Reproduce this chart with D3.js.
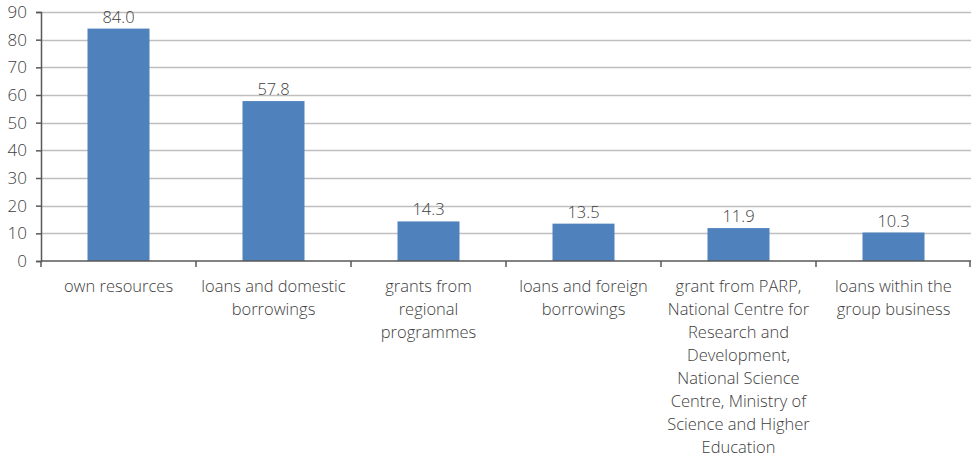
<!DOCTYPE html>
<html>
<head>
<meta charset="utf-8">
<script src="https://cdn.jsdelivr.net/npm/d3@7"></script>
<style>
  html, body { margin: 0; padding: 0; background: #fff; }
  svg { display: block; font-family: "Open Sans", "Noto Sans", sans-serif; font-weight: 300; }
</style>
</head>
<body>
<svg id="chart" width="971" height="458"></svg>
<script>
// Funding sources (line breaks mark where each label wraps) and their shares
const categories = [
  "own resources",
  "loans and domestic\nborrowings",
  "grants from\nregional\nprogrammes",
  "loans and foreign\nborrowings",
  "grant from PARP,\nNational Centre for\nResearch and\nDevelopment,\nNational Science\nCentre, Ministry of\nScience and Higher\nEducation",
  "loans within the\ngroup business"
];
const values = [84.0, 57.8, 14.3, 13.5, 11.9, 10.3];
const yTicks = [0, 10, 20, 30, 40, 50, 60, 70, 80, 90];

const W = 971, H = 458;
const margin = { top: 12, right: 0, bottom: 197, left: 41 };
const svg = d3.select("#chart");
const textColor = "#404040";
const fontSize = 16.5;

const x = d3.scaleBand()
  .domain(categories)
  .range([margin.left, W - margin.right])
  .paddingInner(0.6)
  .paddingOuter(0.3);

const y = d3.scaleLinear()
  .domain([0, 90])
  .range([H - margin.bottom, margin.top]);

// band boundaries (category separators on the x axis)
const step = (W - margin.right - margin.left) / categories.length;
const bounds = d3.range(categories.length + 1).map(i => margin.left + i * step);

// gridlines
svg.append("g")
  .selectAll("line")
  .data(yTicks.filter(d => d > 0))
  .join("line")
  .attr("x1", margin.left)
  .attr("x2", W - margin.right)
  .attr("y1", d => Math.round(y(d)) + 0.5)
  .attr("y2", d => Math.round(y(d)) + 0.5)
  .attr("stroke", "#bfbfbf")
  .attr("stroke-width", 1.5);

// bars
svg.append("g")
  .selectAll("rect")
  .data(values)
  .join("rect")
  .attr("x", (d, i) => x(categories[i]))
  .attr("width", x.bandwidth())
  .attr("y", d => y(d))
  .attr("height", d => y(0) - y(d))
  .attr("fill", "#4f81bd");

// value labels
svg.append("g")
  .selectAll("text")
  .data(values)
  .join("text")
  .attr("x", (d, i) => x(categories[i]) + x.bandwidth() / 2)
  .attr("y", d => y(d) - 6)
  .attr("text-anchor", "middle")
  .attr("fill", textColor)
  .attr("font-size", fontSize)
  .text(d => d.toFixed(1));

// y axis
const yAxis = svg.append("g")
  .attr("transform", `translate(${margin.left},0)`)
  .call(d3.axisLeft(y).tickValues(yTicks).tickSize(5).tickPadding(9).tickFormat(d3.format("d")));
yAxis.select(".domain").attr("stroke", "#595959").attr("stroke-width", 1.5);
yAxis.selectAll(".tick line").attr("stroke", "#595959").attr("stroke-width", 1.5);
yAxis.selectAll(".tick text")
  .attr("fill", textColor)
  .attr("font-size", 17)
  .attr("font-weight", 300)
  .attr("font-family", "'Open Sans', 'Noto Sans', sans-serif");

// x axis line and separator ticks
const xg = svg.append("g");
xg.append("line")
  .attr("x1", margin.left)
  .attr("x2", W - margin.right)
  .attr("y1", y(0))
  .attr("y2", y(0))
  .attr("stroke", "#595959")
  .attr("stroke-width", 1.5);
xg.selectAll("line.sep")
  .data(bounds)
  .join("line")
  .attr("class", "sep")
  .attr("x1", d => Math.min(d, W - 1))
  .attr("x2", d => Math.min(d, W - 1))
  .attr("y1", y(0))
  .attr("y2", y(0) + 6)
  .attr("stroke", "#595959")
  .attr("stroke-width", 1.5);

// multi-line category labels
categories.forEach(c => {
  const cx = x(c) + x.bandwidth() / 2;
  const t = svg.append("text")
    .attr("text-anchor", "middle")
    .attr("fill", textColor)
    .attr("font-size", fontSize);
  c.split("\n").forEach((ln, j) => {
    t.append("tspan")
      .attr("x", cx)
      .attr("y", y(0) + 31 + j * 23)
      .text(ln);
  });
});
</script>
</body>
</html>
